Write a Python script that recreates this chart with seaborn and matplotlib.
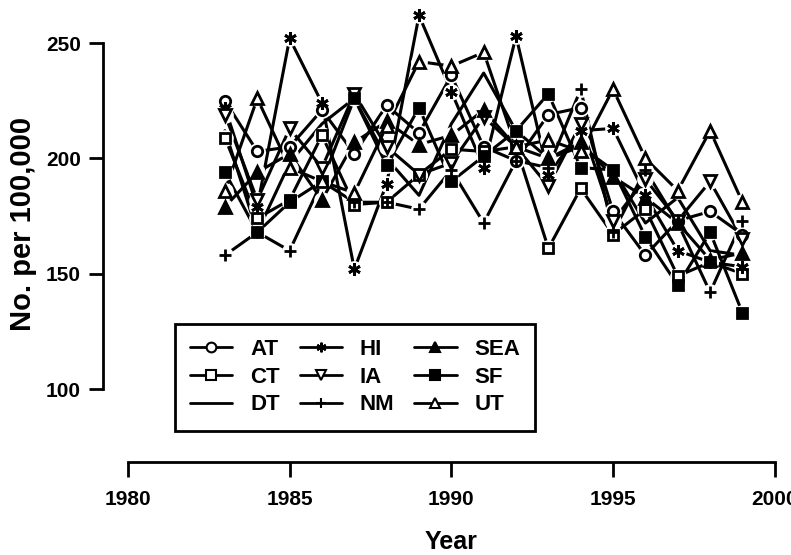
import matplotlib
matplotlib.use("Agg")
import matplotlib.pyplot as plt
from matplotlib.lines import Line2D
import seaborn as sns

# rates per 100,000
years = list(range(1983, 2000))
at = [225, 203, 205, 221, 202, 223, 211, 236, 205, 199, 219, 222, 177, 158, 173, 177, 167]
ct = [209, 174, 182, 210, 180, 181, 193, 204, 203, 205, 161, 187, 167, 178, 149, 155, 150]
dt = [212, 168, 198, 215, 226, 200, 184, 215, 237, 212, 200, 205, 195, 172, 183, 160, 158]
hi = [222, 179, 252, 224, 152, 189, 262, 229, 196, 253, 193, 212, 213, 184, 160, 155, 153]
ia = [219, 182, 213, 196, 228, 205, 193, 198, 218, 205, 188, 215, 173, 191, 173, 190, 165]
nm = [158, 168, 160, 190, 181, 181, 178, 195, 172, 199, 196, 230, 168, 195, 172, 142, 173]
sea = [179, 194, 202, 182, 207, 216, 206, 210, 221, 205, 200, 207, 192, 183, 172, 156, 159]
sf = [194, 168, 181, 190, 226, 197, 222, 190, 201, 212, 228, 196, 195, 166, 145, 168, 133]
ut = [186, 226, 196, 190, 185, 214, 242, 240, 246, 205, 208, 203, 230, 200, 186, 212, 181]

asterisk = (6, 2, 0)
series = [
    ("AT", at, "o", "white"),
    ("CT", ct, "s", "white"),
    ("DT", dt, None, "white"),
    ("HI", hi, asterisk, "black"),
    ("IA", ia, "v", "white"),
    ("NM", nm, "+", "black"),
    ("SEA", sea, "^", "black"),
    ("SF", sf, "s", "black"),
    ("UT", ut, "^", "white"),
]

sns.set_style("ticks", {"axes.edgecolor": "black", "text.color": "black",
                        "axes.labelcolor": "black", "xtick.color": "black",
                        "ytick.color": "black"})
plt.rcParams['font.family'] = ['Liberation Sans', 'DejaVu Sans']
plt.rcParams['font.weight'] = 'bold'

fig = plt.figure(figsize=(7.91, 5.55), dpi=100)
ax = fig.add_axes([0.1302, 0.1676, 0.862, 0.8234])

for name, vals, m, fc in series:
    sns.lineplot(x=years, y=vals, ax=ax, color="black", lw=2.2, legend=False, zorder=2)

# white halos so the lines stop short of the symbols
for name, vals, m, fc in series:
    if m is None:
        continue
    ax.plot(years, vals, ls="none", marker="o", ms=11, mfc="white", mec="white", zorder=3)

for name, vals, m, fc in series:
    if m is None:
        continue
    size = 9 if m in ("^", "v", asterisk, "+") else 7.5
    ax.plot(years, vals, ls="none", marker=m, ms=size, mfc=fc, mec="black", mew=2, zorder=4)

ax.set_xlim(1979.23, 2000.31)
ax.set_ylim(68.4, 266.5)
ax.set_xticks([1980, 1985, 1990, 1995, 2000])
ax.set_yticks([100, 150, 200, 250])
ax.tick_params(axis="both", width=2, labelsize=15, direction="out", colors="black")
ax.tick_params(axis="x", length=11, pad=9)
ax.tick_params(axis="y", length=10, pad=6)
for s in ["left", "bottom"]:
    ax.spines[s].set_linewidth(2)
    ax.spines[s].set_color("black")
sns.despine(ax=ax, trim=True)

ax.set_xlabel("Year", fontsize=18, fontweight="bold", color="black")
ax.set_ylabel("No. per 100,000", fontsize=21, fontweight="bold", color="black")
ax.xaxis.set_label_coords(0.51, -0.148)
ax.yaxis.set_label_coords(-0.097, 0.52)

handles = [Line2D([], [], color="black", lw=2, marker=m, ms=7, mfc=fc, mec="black", mew=1.5)
           for name, vals, m, fc in series]
labels = [s[0] for s in series]
leg = ax.legend(handles, labels, ncol=3, loc="upper left",
                bbox_to_anchor=(175 / 791, 1 - 324 / 555), bbox_transform=fig.transFigure,
                frameon=True, fancybox=False, edgecolor="black", framealpha=1,
                prop={"weight": "bold", "size": 16}, handlelength=1.9, handletextpad=0.8,
                columnspacing=0.9, labelspacing=0.3, borderpad=0.68, borderaxespad=0)
leg.get_frame().set_linewidth(2)
for t in leg.get_texts():
    t.set_color("black")

fig.savefig("out.png", dpi=100)
